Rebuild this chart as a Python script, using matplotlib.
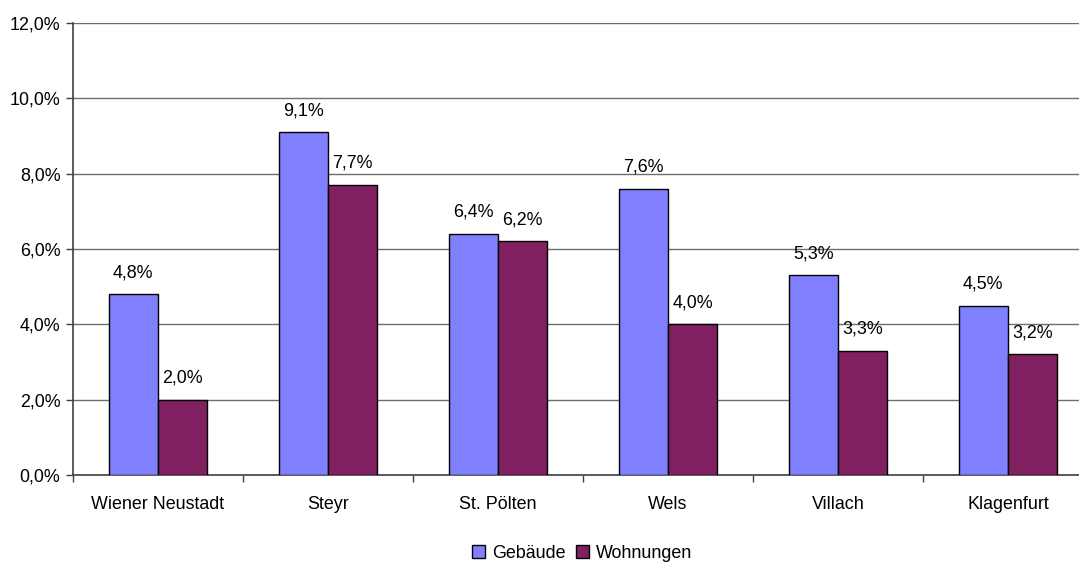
import matplotlib.pyplot as plt
import numpy as np
from matplotlib.ticker import FuncFormatter, FixedLocator

plt.rcParams['font.family'] = ['Liberation Sans', 'DejaVu Sans']

staedte = ['Wiener Neustadt', 'Steyr', 'St. Pölten', 'Wels', 'Villach', 'Klagenfurt']
gebaeude = [4.8, 9.1, 6.4, 7.6, 5.3, 4.5]
wohnungen = [2.0, 7.7, 6.2, 4.0, 3.3, 3.2]

blau = '#8080FF'
bordeaux = '#802060'
fs = 12.9


def pct(v, pos=None):
    return f'{v:.1f}%'.replace('.', ',')


fig = plt.figure(figsize=(10.79, 5.65), dpi=100)
ax = fig.add_axes([73 / 1079, 1 - 475 / 565, 1020 / 1079, 452 / 565])

x = np.arange(len(staedte))
w = 0.29
b1 = ax.bar(x - w / 2, gebaeude, w, color=blau, edgecolor='black', linewidth=1.0,
            label='Gebäude', zorder=3)
b2 = ax.bar(x + w / 2, wohnungen, w, color=bordeaux, edgecolor='black', linewidth=1.0,
            label='Wohnungen', zorder=3)

for bars, vals in ((b1, gebaeude), (b2, wohnungen)):
    for r, v in zip(bars, vals):
        ax.text(r.get_x() + r.get_width() / 2, v + 0.57, pct(v),
                ha='center', va='center', fontsize=fs, zorder=4)

ax.set_xlim(-0.5, len(staedte) - 0.5)
ax.set_ylim(0, 12)
ax.set_yticks(np.arange(0, 12.1, 2))
ax.yaxis.set_major_formatter(FuncFormatter(pct))
ax.yaxis.grid(True, color='#6e6e6e', linewidth=1.0, zorder=0)

ax.set_xticks(x)
ax.set_xticklabels(staedte)
ax.tick_params(axis='x', length=0, pad=15, labelsize=fs)
ax.xaxis.set_minor_locator(FixedLocator(np.arange(-0.5, len(staedte), 1.0)))
ax.tick_params(axis='x', which='minor', length=5, width=1, color='#404040', direction='out')
ax.tick_params(axis='y', length=5, width=1, color='#404040', labelsize=fs, pad=4)

for s in ('top', 'right'):
    ax.spines[s].set_visible(False)
for s in ('left', 'bottom'):
    ax.spines[s].set_color('#404040')
    ax.spines[s].set_linewidth(1.2)

fig.legend(handles=[b1, b2], loc='center', bbox_to_anchor=(582 / 1079, 1 - 553 / 565),
           ncol=2, frameon=False, fontsize=fs, handlelength=0.7, handleheight=0.7,
           handletextpad=0.4, columnspacing=0.6)

fig.savefig('out.png', dpi=100)
